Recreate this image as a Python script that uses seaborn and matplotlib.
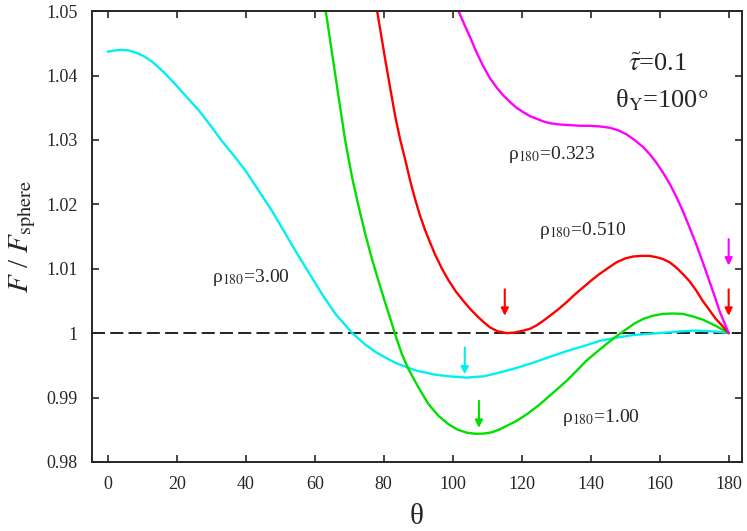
import matplotlib
matplotlib.use('Agg')
import matplotlib.pyplot as plt
import matplotlib.ticker as mticker
import seaborn as sns
import pandas as pd

# curves (theta in degrees, F/F_sphere)
theta_300 = [0, 2, 4, 6, 8, 10.5, 13, 16.5, 20, 23, 26.4, 29.7, 33, 36.5, 40, 43.8, 47.6,
             51, 54.4, 58.4, 62.2, 66, 70.9, 74.5, 77.6, 80.5, 83.4, 87.2, 90, 92, 94.4,
             98.8, 104, 109, 113.7, 118.5, 123.3, 128, 133, 138, 142.6, 147.5, 152.2,
             157.1, 161.9, 166.7, 170.5, 174.4, 177.3, 180]
f_300 = [1.0437, 1.0439, 1.0440, 1.0439, 1.0436, 1.0430, 1.0421, 1.0404, 1.0384, 1.0366,
         1.0346, 1.0323, 1.0299, 1.0276, 1.0252, 1.0221, 1.0190, 1.0159, 1.0128, 1.0093,
         1.0060, 1.0030, 1.0000, 0.9983, 0.9971, 0.9962, 0.9954, 0.9946, 0.9941, 0.9939,
         0.9936, 0.9933, 0.9931, 0.9933, 0.9939, 0.9946, 0.9954, 0.9963, 0.9972, 0.9980,
         0.9988, 0.9993, 0.9997, 0.9999, 1.0001, 1.0003, 1.0004, 1.0003, 1.0002, 1.0]

theta_100 = [62.5, 63.2, 65.1, 67, 68.9, 70.9, 72.8, 74.7, 76.6, 78.6, 80.5, 82, 83.2, 85.3,
             87.2, 90.1, 93, 95.9, 98.8, 101.5, 104, 106.5, 108.9, 111.3, 113.7, 116, 118.5,
             122, 125.3, 129, 133, 136, 138.7, 141.6, 144.5, 147.4, 150.3, 152.7, 155.2,
             158, 161, 163.9, 166.7, 169.6, 172.5, 176.4, 180]
f_100 = [1.0525, 1.0500, 1.0432, 1.0364, 1.0297, 1.0240, 1.0195, 1.0153, 1.0115, 1.0079,
         1.0046, 1.0021, 1.0000, 0.9967, 0.9944, 0.99155, 0.98896, 0.98715, 0.98585,
         0.9850, 0.98456, 0.98438, 0.9844, 0.9846, 0.98508, 0.9857, 0.98637, 0.9876,
         0.98896, 0.9907, 0.99259, 0.9942, 0.9957, 0.9970, 0.99829, 0.9995, 1.0006,
         1.0015, 1.0022, 1.0027, 1.0030, 1.00305, 1.0030, 1.0026, 1.0021, 1.0011, 1.0]

theta_051 = [77.6, 78.1, 80.5, 82, 83.4, 84.8, 86.3, 87.7, 89.1, 90.5, 92, 93.5, 94.9, 96.8,
             98.8, 101, 103.1, 105, 107, 109, 110.8, 113, 115.7, 118, 120.5, 122.5, 124.3,
             126.2, 128.2, 130.6, 133, 135.4, 137.8, 140.2, 142.6, 145, 147.5, 150, 152.3,
             154.7, 157.1, 159, 161, 162.9, 164.8, 166.7, 168.6, 170.5, 172.5, 174.4, 176.3,
             178.2, 180]
f_051 = [1.0518, 1.0500, 1.0423, 1.0377, 1.0335, 1.0300, 1.0268, 1.0236, 1.0208, 1.0183,
         1.0160, 1.0140, 1.0122, 1.0101, 1.0082, 1.0064, 1.0050, 1.0038, 1.0027, 1.0017,
         1.0009, 1.0003, 1.0000, 1.0001, 1.0004, 1.0007, 1.0012, 1.0019, 1.0027, 1.0037,
         1.0048, 1.0060, 1.0071, 1.0082, 1.0092, 1.0101, 1.0110, 1.0116, 1.0119, 1.0120,
         1.0120, 1.0118, 1.0115, 1.0110, 1.0102, 1.0092, 1.0081, 1.0067, 1.0050, 1.0036,
         1.0022, 1.0011, 1.0]

theta_032 = [100.5, 101.7, 103.4, 105.1, 107, 108.9, 110.8, 112.8, 114.7, 116.6, 118.5,
             120.5, 122.4, 124.3, 126.2, 128.2, 131, 134, 137, 139.7, 142.6, 145.5, 148,
             150.3, 152.7, 155.2, 157.1, 159, 160.9, 162.9, 164.8, 166.7, 168.6, 170.6,
             172.5, 174.4, 175.9, 177.3, 178.7, 180]
f_032 = [1.0515, 1.0500, 1.0479, 1.0459, 1.0435, 1.0414, 1.0396, 1.0381, 1.0369, 1.0359,
         1.0350, 1.0343, 1.0337, 1.0333, 1.0329, 1.0326, 1.0324, 1.0323, 1.0322, 1.0322,
         1.0321, 1.0319, 1.0315, 1.0309, 1.0300, 1.0289, 1.0278, 1.0265, 1.0250, 1.0232,
         1.0212, 1.0190, 1.0165, 1.0138, 1.0110, 1.0081, 1.0058, 1.0035, 1.0017, 1.0]

# arrows marking minima: x, y_start, y_end, colour
arr_x = [103.5, 107.6, 115.1, 180, 180]
arr_y0 = [0.9978, 0.9895, 1.0068, 1.0068, 1.0146]
arr_y1 = [0.9936, 0.9853, 1.0027, 1.0027, 1.0105]
arr_c = ['#00f0f0', '#00e000', '#ff0000', '#ff0000', '#ff00ff']

sns.set_style('ticks')
plt.rcParams['font.family'] = ['Liberation Serif', 'DejaVu Serif']
plt.rcParams['mathtext.fontset'] = 'stix'

fig = plt.figure(figsize=(7.47, 5.31), dpi=100)
ax = fig.add_axes([0.123, 0.130, 0.870, 0.849])

ax.axhline(1.0, color='#222222', ls=(0, (6.7, 2.7)), lw=1.4, zorder=1)

curves = [(theta_300, f_300, '#00f0f0'), (theta_100, f_100, '#00e000'),
          (theta_051, f_051, '#ff0000'), (theta_032, f_032, '#ff00ff')]
for th, f, c in curves:
    df = pd.DataFrame({'theta': th, 'F': f})
    sns.lineplot(data=df, x='theta', y='F', color=c, lw=1.7, sort=False, ax=ax, zorder=2)

for x, y0, y1, c in zip(arr_x, arr_y0, arr_y1, arr_c):
    ax.annotate('', xy=(x, y1), xytext=(x, y0),
                arrowprops=dict(arrowstyle='-|>', color=c, lw=1.5, mutation_scale=11,
                                shrinkA=0, shrinkB=0))

lab_kw = dict(fontsize=14, va='center', ha='left')
ax.text(116, 1.0278, 'ρ$_{180}$=0.323', **lab_kw)
ax.text(125, 1.0159, 'ρ$_{180}$=0.510', **lab_kw)
ax.text(30.2, 1.0087, 'ρ$_{180}$=3.00', **lab_kw)
ax.text(131.8, 0.9869, 'ρ$_{180}$=1.00', **lab_kw)
ax.text(159.5, 1.0416, r'$\tilde{\tau}$=0.1', fontsize=19, ha='center', va='center')
ax.text(160.7, 1.0361, 'θ$_\\mathrm{Y}$=100°', fontsize=19, ha='center', va='center')

ax.set_xlim(-4.6, 183.8)
ax.set_ylim(0.98, 1.05)
ax.xaxis.set_major_locator(mticker.MultipleLocator(20))
ax.yaxis.set_major_locator(mticker.MultipleLocator(0.01))
ax.yaxis.set_major_formatter(mticker.FuncFormatter(lambda v, p: '%g' % round(v, 2)))
ax.tick_params(direction='in', top=True, right=True, length=5, width=1.2,
               labelsize=13, pad=10)
for s in ax.spines.values():
    s.set_linewidth(1.4)

ax.set_xlabel('θ', fontsize=21, labelpad=8)
ax.set_ylabel('$F$ / $F_\\mathrm{sphere}$', fontsize=21, labelpad=6)

fig.savefig('out.png', dpi=100)
